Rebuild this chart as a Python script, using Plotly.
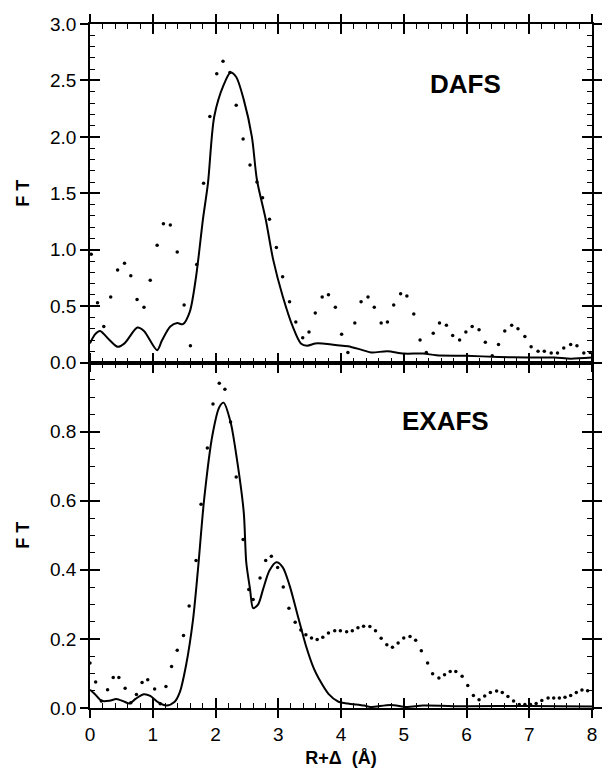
import plotly.graph_objects as go

# ---------------- data ----------------
# Top panel (DAFS): dots = data, solid line = fit
dafs_dots_x = [0.02, 0.12, 0.22, 0.33, 0.44, 0.55, 0.65, 0.75, 0.86, 0.96,
               1.07, 1.17, 1.28, 1.39, 1.50, 1.60, 1.70, 1.81, 1.91, 2.02,
               2.12, 2.23, 2.33, 2.44, 2.55, 2.66, 2.75, 2.86, 2.97, 3.07,
               3.18, 3.28, 3.39, 3.49, 3.59, 3.70, 3.80, 3.91, 4.01, 4.11,
               4.22, 4.32, 4.43, 4.53, 4.64, 4.74, 4.84, 4.95, 5.05, 5.16,
               5.26, 5.36, 5.47, 5.57, 5.68, 5.78, 5.89, 5.99, 6.09, 6.20,
               6.30, 6.41, 6.51, 6.61, 6.72, 6.82, 6.93, 7.03, 7.14, 7.24,
               7.35, 7.45, 7.55, 7.66, 7.76, 7.87, 7.97]
dafs_dots_y = [0.96, 0.53, 0.32, 0.58, 0.82, 0.88, 0.77, 0.56, 0.49, 0.73,
               1.04, 1.23, 1.22, 0.98, 0.51, 0.15, 0.87, 1.59, 2.18, 2.56,
               2.67, 2.57, 2.28, 1.98, 1.75, 1.60, 1.46, 1.27, 1.02, 0.76,
               0.54, 0.36, 0.22, 0.27, 0.44, 0.58, 0.60, 0.49, 0.25, 0.09,
               0.35, 0.54, 0.58, 0.49, 0.35, 0.36, 0.51, 0.61, 0.59, 0.43,
               0.20, 0.09, 0.26, 0.35, 0.33, 0.24, 0.20, 0.27, 0.32, 0.29,
               0.18, 0.06, 0.16, 0.28, 0.33, 0.30, 0.23, 0.14, 0.10, 0.10,
               0.085, 0.085, 0.13, 0.16, 0.15, 0.085, 0.09]
dafs_line_x = [0.0, 0.08, 0.16, 0.31, 0.44, 0.55, 0.755, 0.86, 1.07, 1.15,
               1.28, 1.39, 1.48, 1.59, 1.69, 1.80, 1.88, 1.98, 2.13, 2.24,
               2.33, 2.45, 2.58, 2.66, 2.80, 2.92, 3.07, 3.23, 3.36, 3.46,
               3.59, 3.70, 3.91, 4.11, 4.32, 4.48, 4.74, 5.0, 5.31, 5.52,
               5.99, 6.51, 6.98, 7.40, 7.66, 8.0]
dafs_line_y = [0.17, 0.25, 0.28, 0.20, 0.14, 0.17, 0.31, 0.28, 0.11, 0.20,
               0.32, 0.35, 0.34, 0.45, 0.76, 1.27, 1.59, 2.18, 2.46, 2.57,
               2.53, 2.33, 2.00, 1.62, 1.27, 0.91, 0.59, 0.32, 0.17, 0.15,
               0.17, 0.17, 0.155, 0.145, 0.115, 0.09, 0.10, 0.08, 0.08, 0.065,
               0.06, 0.05, 0.045, 0.045, 0.035, 0.045]

# Bottom panel (EXAFS)
exafs_dots_x = [0.0, 0.09, 0.18, 0.28, 0.37, 0.46, 0.56, 0.65, 0.74, 0.83,
                0.92, 1.03, 1.12, 1.21, 1.30, 1.39, 1.49, 1.58, 1.69, 1.77,
                1.87, 1.96, 2.06, 2.15, 2.24, 2.33, 2.44, 2.53, 2.60, 2.71,
                2.80, 2.89, 2.99, 3.08, 3.17, 3.27, 3.36, 3.44, 3.53, 3.62,
                3.71, 3.80, 3.90, 3.99, 4.09, 4.18, 4.27, 4.36, 4.46, 4.55,
                4.64, 4.73, 4.82, 4.91, 5.00, 5.10, 5.19, 5.28, 5.38, 5.46,
                5.56, 5.65, 5.74, 5.83, 5.93, 6.02, 6.11, 6.20, 6.29, 6.38,
                6.48, 6.57, 6.66, 6.75, 6.84, 6.93, 7.02, 7.11, 7.20, 7.30,
                7.39, 7.48, 7.57, 7.66, 7.75, 7.84, 7.93]
exafs_dots_y = [0.13, 0.075, 0.02, 0.053, 0.088, 0.088, 0.057, 0.015, 0.039, 0.074,
                0.082, 0.055, 0.012, 0.062, 0.12, 0.167, 0.21, 0.295, 0.427, 0.59,
                0.753, 0.88, 0.94, 0.923, 0.828, 0.669, 0.488, 0.343, 0.314, 0.376,
                0.427, 0.439, 0.407, 0.35, 0.289, 0.248, 0.226, 0.212, 0.203, 0.198,
                0.205, 0.217, 0.224, 0.224, 0.221, 0.224, 0.232, 0.237, 0.236, 0.224,
                0.202, 0.183, 0.176, 0.188, 0.203, 0.207, 0.196, 0.166, 0.13, 0.099,
                0.087, 0.096, 0.106, 0.106, 0.092, 0.065, 0.036, 0.024, 0.035, 0.045,
                0.049, 0.045, 0.033, 0.020, 0.01, 0.01, 0.01, 0.013, 0.022, 0.029,
                0.029, 0.029, 0.031, 0.036, 0.045, 0.052, 0.05]
exafs_line_x = [0.0, 0.08, 0.18, 0.31, 0.42, 0.55, 0.63, 0.73, 0.86, 0.96,
                1.09, 1.22, 1.35, 1.43, 1.53, 1.64, 1.72, 1.82, 1.95, 2.06,
                2.13, 2.24, 2.34, 2.45, 2.49, 2.55, 2.60, 2.68, 2.76, 2.86,
                2.97, 3.07, 3.18, 3.31, 3.44, 3.57, 3.65, 3.80, 3.96, 4.11,
                4.37, 4.47, 4.79, 5.05, 5.31, 6.0, 7.0, 8.0]
exafs_line_y = [0.053, 0.04, 0.021, 0.021, 0.026, 0.018, 0.013, 0.027, 0.04, 0.035,
                0.016, 0.007, 0.018, 0.045, 0.123, 0.253, 0.40, 0.606, 0.789, 0.871,
                0.884, 0.828, 0.722, 0.567, 0.422, 0.345, 0.289, 0.30, 0.345, 0.398,
                0.422, 0.408, 0.355, 0.268, 0.181, 0.113, 0.084, 0.041, 0.018, 0.013,
                0.007, 0.003, 0.009, 0.003, 0.007, 0.005, 0.006, 0.004]

x_ticks = [0, 1, 2, 3, 4, 5, 6, 7, 8]
dafs_yticks = [0.0, 0.5, 1.0, 1.5, 2.0, 2.5, 3.0]
exafs_yticks = [0.0, 0.2, 0.4, 0.6, 0.8]

FONT = "Liberation Sans, Arial, Helvetica, sans-serif"
TICKFONT = dict(family=FONT, size=19, color="black")
TITLEFONT = dict(family=FONT, size=18, color="black")

fig = go.Figure()

# top panel traces
fig.add_trace(go.Scatter(x=dafs_line_x, y=dafs_line_y, mode="lines",
                         line=dict(color="black", width=2, shape="spline", smoothing=0.8),
                         xaxis="x2", yaxis="y2", showlegend=False))
fig.add_trace(go.Scatter(x=dafs_dots_x, y=dafs_dots_y, mode="markers",
                         marker=dict(color="black", size=3.5),
                         xaxis="x2", yaxis="y2", showlegend=False))
# bottom panel traces
fig.add_trace(go.Scatter(x=exafs_line_x, y=exafs_line_y, mode="lines",
                         line=dict(color="black", width=2, shape="spline", smoothing=0.8),
                         xaxis="x", yaxis="y", showlegend=False))
fig.add_trace(go.Scatter(x=exafs_dots_x, y=exafs_dots_y, mode="markers",
                         marker=dict(color="black", size=3.5),
                         xaxis="x", yaxis="y", showlegend=False))
# invisible traces to materialise overlay axes (inward ticks)
fig.add_trace(go.Scatter(x=[None], y=[None], xaxis="x3", yaxis="y3",
                         showlegend=False, hoverinfo="skip"))
fig.add_trace(go.Scatter(x=[None], y=[None], xaxis="x4", yaxis="y4",
                         showlegend=False, hoverinfo="skip"))

SPLIT = 0.505
common_main = dict(showline=True, linecolor="black", linewidth=1.5,
                   ticks="outside", ticklen=8, tickwidth=1.5, tickcolor="black",
                   mirror="ticks", showgrid=False, zeroline=False,
                   tickfont=TICKFONT)
common_over = dict(showline=False, ticks="inside", ticklen=10, tickwidth=1.5,
                   tickcolor="black", mirror="ticks", showgrid=False,
                   zeroline=False, showticklabels=False)

fig.update_layout(
    width=608, height=771,
    margin=dict(l=90, r=6, t=24, b=62),
    paper_bgcolor="white", plot_bgcolor="white",
    xaxis=dict(domain=[0, 1], anchor="y", range=[0, 8], tickvals=x_ticks,
               title=dict(text="<b>R+Δ  (Å)</b>", font=TITLEFONT, standoff=8),
               **common_main),
    yaxis=dict(domain=[0, SPLIT], anchor="x", range=[0, 1.0],
               tickvals=exafs_yticks, ticktext=[f"{v:.1f}" for v in exafs_yticks],
               title=dict(text="<b>F T</b>", font=TITLEFONT, standoff=16),
               **common_main),
    xaxis2=dict(domain=[0, 1], anchor="y2", range=[0, 8], tickvals=x_ticks,
                showticklabels=False, **{k: v for k, v in common_main.items() if k != "tickfont"}),
    yaxis2=dict(domain=[SPLIT, 1], anchor="x2", range=[0, 3.0],
                tickvals=dafs_yticks, ticktext=[f"{v:.1f}" for v in dafs_yticks],
                title=dict(text="<b>F T</b>", font=TITLEFONT, standoff=16),
                **common_main),
    xaxis3=dict(overlaying="x", anchor="y3", range=[0, 8], tickvals=x_ticks,
                minor=dict(ticks="inside", ticklen=5, dtick=0.2, tick0=0,
                           tickcolor="black", tickwidth=1.2),
                **common_over),
    yaxis3=dict(overlaying="y", anchor="x3", range=[0, 1.0], tickvals=exafs_yticks,
                minor=dict(ticks="inside", ticklen=5, dtick=0.05, tick0=0,
                           tickcolor="black", tickwidth=1.2),
                **common_over),
    xaxis4=dict(overlaying="x2", anchor="y4", range=[0, 8], tickvals=x_ticks,
                minor=dict(ticks="inside", ticklen=5, dtick=0.2, tick0=0,
                           tickcolor="black", tickwidth=1.2),
                **common_over),
    yaxis4=dict(overlaying="y2", anchor="x4", range=[0, 3.0], tickvals=dafs_yticks,
                minor=dict(ticks="inside", ticklen=5, dtick=0.1, tick0=0,
                           tickcolor="black", tickwidth=1.2),
                **common_over),
    annotations=[
        dict(text="<b>DAFS</b>", x=5.98, y=2.47, xref="x2", yref="y2",
             showarrow=False, font=dict(family=FONT, size=26, color="black")),
        dict(text="<b>EXAFS</b>", x=5.67, y=0.83, xref="x", yref="y",
             showarrow=False, font=dict(family=FONT, size=26, color="black")),
    ],
)

fig.write_html("out.html")
